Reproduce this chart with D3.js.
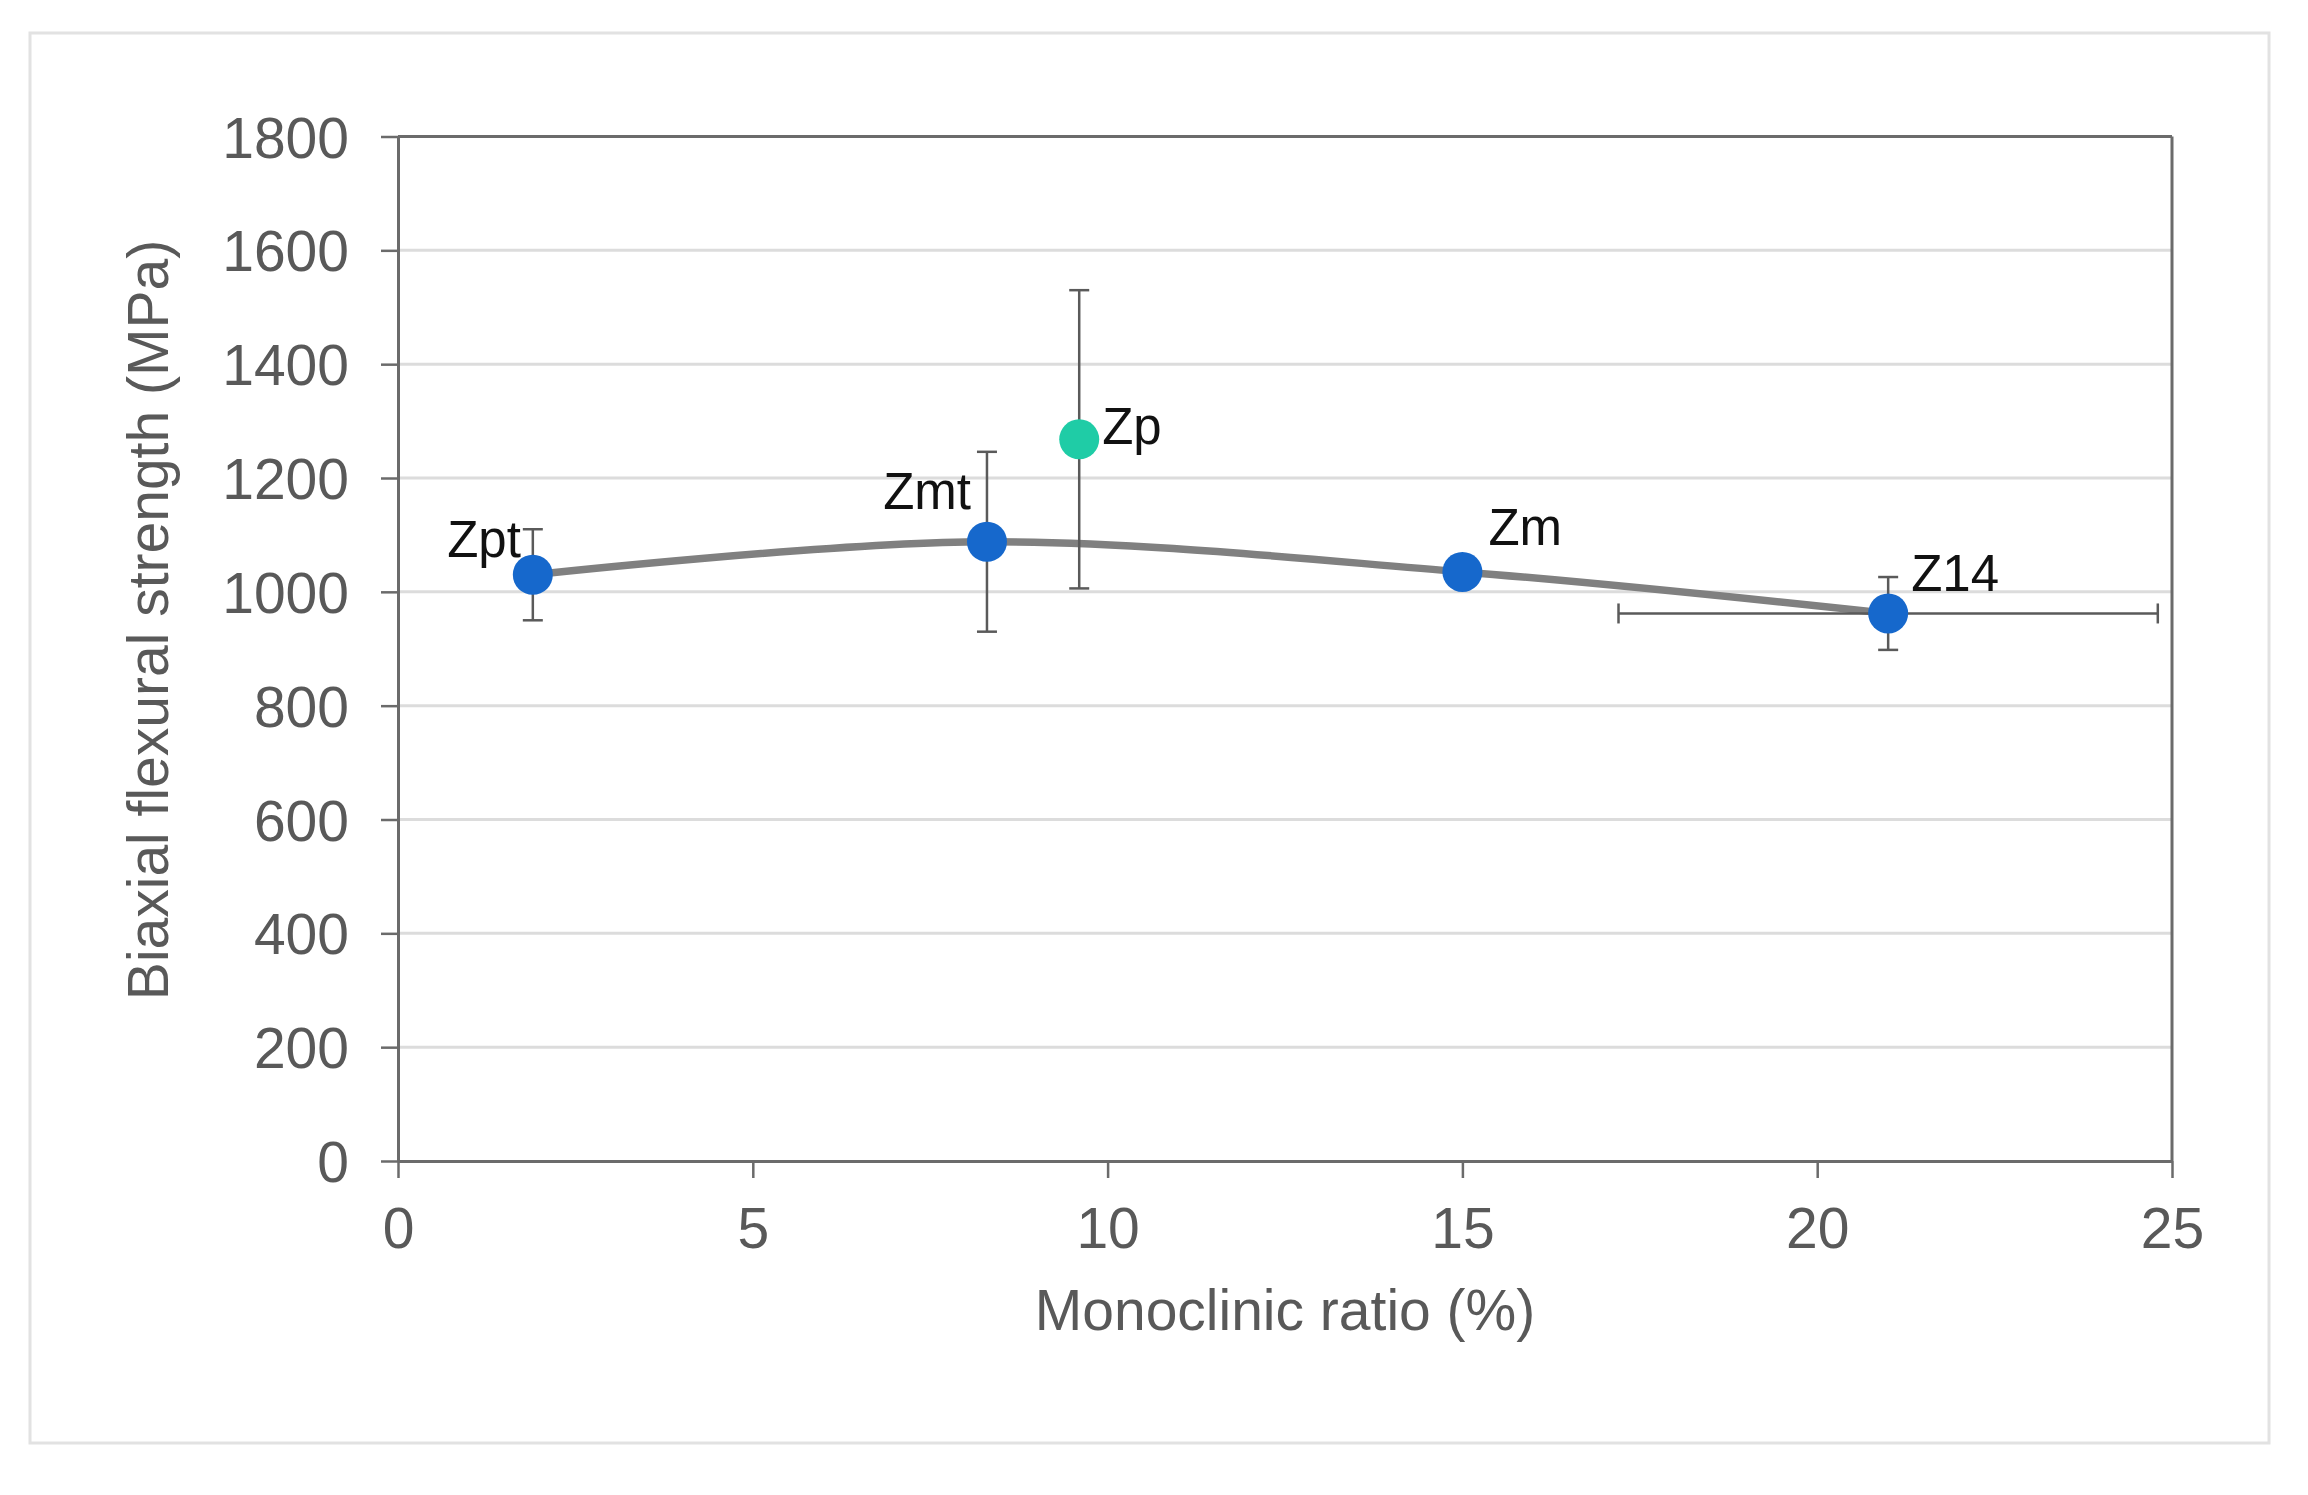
<!DOCTYPE html>
<html>
<head>
<meta charset="utf-8">
<script src="https://cdn.jsdelivr.net/npm/d3@7/dist/d3.min.js"></script>
<style>
  html, body { margin: 0; padding: 0; background: #fff; }
  svg { display: block; }
  text { font-family: "Liberation Sans", Arial, sans-serif; }
</style>
</head>
<body>
<svg id="chart" width="2308" height="1495"></svg>
<script>
// ---- data ----
const names    = ["Zpt", "Zmt", "Zp", "Zm", "Z14"];
const xValues  = [1.9, 8.3, 9.6, 15.0, 21.0];
const yValues  = [1030, 1088, 1268, 1035, 962];
const yErrors  = [80, 158, 262, 0, 64];
const xErrors  = [0, 0, 0, 0, 3.8];
const onCurve  = [true, true, false, true, true];
const pointColors = ["#1668cc", "#1668cc", "#1fcca6", "#1668cc", "#1668cc"];
const xTicks = [0, 5, 10, 15, 20, 25];
const yTicks = [0, 200, 400, 600, 800, 1000, 1200, 1400, 1600, 1800];
const xTitle = "Monoclinic ratio (%)";
const yTitle = "Biaxial flexural strength (MPa)";

// label offsets (layout, not data)
const labelPos = {
  "Zpt": {dx: -12, dy: -18, anchor: "end"},
  "Zmt": {dx: -16, dy: -33, anchor: "end"},
  "Zp":  {dx: 23,  dy: 5,   anchor: "start"},
  "Zm":  {dx: 26,  dy: -27, anchor: "start"},
  "Z14": {dx: 23,  dy: -22, anchor: "start"}
};

const svg = d3.select("#chart");

// outer frame
svg.append("rect").attr("x", 30).attr("y", 33).attr("width", 2239).attr("height", 1410)
  .attr("fill", "none").attr("stroke", "#e2e2e2").attr("stroke-width", 3);

const L = 398, R = 2172, T = 136.5, B = 1161;
const x = d3.scaleLinear().domain([0, 25]).range([L, R]);
const y = d3.scaleLinear().domain([0, 1800]).range([B, T]);

// gridlines
svg.append("g").selectAll("line").data(yTicks.filter(d => d > 0 && d < 1800)).join("line")
  .attr("x1", L).attr("x2", R).attr("y1", d => y(d)).attr("y2", d => y(d))
  .attr("stroke", "#dcdcdc").attr("stroke-width", 3);

// frame top/right
svg.append("line").attr("x1", L).attr("x2", R).attr("y1", T).attr("y2", T)
  .attr("stroke", "#6b6b6b").attr("stroke-width", 3);
svg.append("line").attr("x1", R).attr("x2", R).attr("y1", T).attr("y2", B)
  .attr("stroke", "#6b6b6b").attr("stroke-width", 3);

// axes
const xAxis = d3.axisBottom(x).tickValues(xTicks).tickFormat(d3.format("d")).tickSize(17).tickPadding(30).tickSizeOuter(0);
const yAxis = d3.axisLeft(y).tickValues(yTicks).tickFormat(d3.format("d")).tickSize(17).tickPadding(32).tickSizeOuter(0);

const gx = svg.append("g").attr("transform", `translate(0,${B})`).call(xAxis);
const gy = svg.append("g").attr("transform", `translate(${L},0)`).call(yAxis);
[gx, gy].forEach(g => {
  g.select(".domain").attr("stroke", "#6b6b6b").attr("stroke-width", 3);
  g.selectAll(".tick line").attr("stroke", "#6b6b6b").attr("stroke-width", 2.5);
  g.selectAll(".tick text").attr("fill", "#595959").attr("font-size", 57)
    .attr("font-family", "'Liberation Sans', Arial, sans-serif");
});
gy.selectAll(".tick text").attr("dy", "0.36em");
gx.selectAll(".tick text").attr("dy", "0.71em");

// axis titles
svg.append("text").attr("x", (L + R) / 2).attr("y", 1330).attr("text-anchor", "middle")
  .attr("font-size", 57).attr("fill", "#595959").text(xTitle);
svg.append("text").attr("transform", "translate(168,620) rotate(-90)").attr("text-anchor", "middle")
  .attr("font-size", 57).attr("fill", "#595959").text(yTitle);

// data records
const pts = names.map((n, i) => ({name: n, x: xValues[i], y: yValues[i], ey: yErrors[i], ex: xErrors[i], curve: onCurve[i], color: pointColors[i]}));

// smooth line
const line = d3.line().x(d => x(d.x)).y(d => y(d.y)).curve(d3.curveCatmullRom.alpha(0));
svg.append("path").datum(pts.filter(d => d.curve)).attr("d", line)
  .attr("fill", "none").attr("stroke", "#808080").attr("stroke-width", 7.5);

// error bars
const eb = svg.append("g").attr("stroke", "#5a5a5a").attr("stroke-width", 2.5);
const cap = 10;
pts.filter(d => d.ey > 0).forEach(d => {
  eb.append("line").attr("x1", x(d.x)).attr("x2", x(d.x)).attr("y1", y(d.y - d.ey)).attr("y2", y(d.y + d.ey));
  eb.append("line").attr("x1", x(d.x) - cap).attr("x2", x(d.x) + cap).attr("y1", y(d.y + d.ey)).attr("y2", y(d.y + d.ey));
  eb.append("line").attr("x1", x(d.x) - cap).attr("x2", x(d.x) + cap).attr("y1", y(d.y - d.ey)).attr("y2", y(d.y - d.ey));
});
pts.filter(d => d.ex > 0).forEach(d => {
  eb.append("line").attr("x1", x(d.x - d.ex)).attr("x2", x(d.x + d.ex)).attr("y1", y(d.y)).attr("y2", y(d.y));
  eb.append("line").attr("x1", x(d.x - d.ex)).attr("x2", x(d.x - d.ex)).attr("y1", y(d.y) - cap).attr("y2", y(d.y) + cap);
  eb.append("line").attr("x1", x(d.x + d.ex)).attr("x2", x(d.x + d.ex)).attr("y1", y(d.y) - cap).attr("y2", y(d.y) + cap);
});

// markers
svg.append("g").selectAll("circle").data(pts).join("circle")
  .attr("cx", d => x(d.x)).attr("cy", d => y(d.y)).attr("r", 20)
  .attr("fill", d => d.color);

// labels
svg.append("g").selectAll("text").data(pts).join("text")
  .attr("x", d => x(d.x) + labelPos[d.name].dx)
  .attr("y", d => y(d.y) + labelPos[d.name].dy)
  .attr("text-anchor", d => labelPos[d.name].anchor)
  .attr("font-size", 51).attr("fill", "#111")
  .text(d => d.name);
</script>
</body>
</html>
